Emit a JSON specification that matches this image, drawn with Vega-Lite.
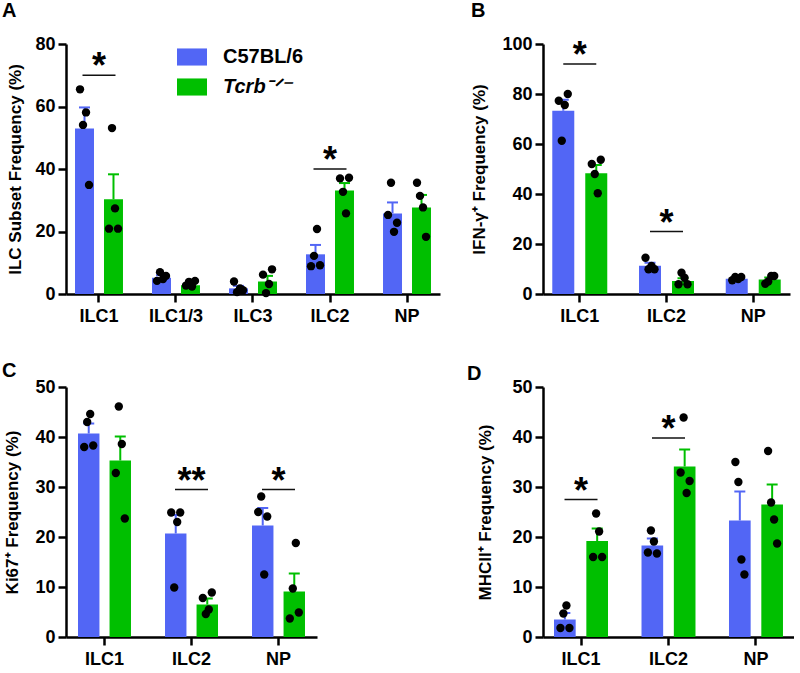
{
  "$schema": "https://vega.github.io/schema/vega-lite/v6.json",
  "padding": {"left": 2, "top": 1, "right": 0, "bottom": 0},
  "background": "white",
  "datasets": {
    "bars": [
      {"panel": "A", "cell": "ILC1", "genotype": "C57BL/6", "mean": 53.0, "upper": 59.7},
      {"panel": "A", "cell": "ILC1", "genotype": "Tcrb-/-", "mean": 30.3, "upper": 38.3},
      {"panel": "A", "cell": "ILC1/3", "genotype": "C57BL/6", "mean": 5.2, "upper": 6.0},
      {"panel": "A", "cell": "ILC1/3", "genotype": "Tcrb-/-", "mean": 2.8, "upper": 3.3},
      {"panel": "A", "cell": "ILC3", "genotype": "C57BL/6", "mean": 1.8, "upper": 2.6},
      {"panel": "A", "cell": "ILC3", "genotype": "Tcrb-/-", "mean": 4.0, "upper": 5.8},
      {"panel": "A", "cell": "ILC2", "genotype": "C57BL/6", "mean": 12.7, "upper": 15.7},
      {"panel": "A", "cell": "ILC2", "genotype": "Tcrb-/-", "mean": 33.1, "upper": 35.5},
      {"panel": "A", "cell": "NP", "genotype": "C57BL/6", "mean": 25.8, "upper": 29.3},
      {"panel": "A", "cell": "NP", "genotype": "Tcrb-/-", "mean": 27.7, "upper": 31.7},
      {"panel": "B", "cell": "ILC1", "genotype": "C57BL/6", "mean": 73.3, "upper": 77.7},
      {"panel": "B", "cell": "ILC1", "genotype": "Tcrb-/-", "mean": 48.3, "upper": 51.6},
      {"panel": "B", "cell": "ILC2", "genotype": "C57BL/6", "mean": 11.3, "upper": 12.5},
      {"panel": "B", "cell": "ILC2", "genotype": "Tcrb-/-", "mean": 5.2, "upper": 6.3},
      {"panel": "B", "cell": "NP", "genotype": "C57BL/6", "mean": 6.1, "upper": 6.6},
      {"panel": "B", "cell": "NP", "genotype": "Tcrb-/-", "mean": 5.8, "upper": 6.6},
      {"panel": "C", "cell": "ILC1", "genotype": "C57BL/6", "mean": 40.7, "upper": 42.7},
      {"panel": "C", "cell": "ILC1", "genotype": "Tcrb-/-", "mean": 35.3, "upper": 40.1},
      {"panel": "C", "cell": "ILC2", "genotype": "C57BL/6", "mean": 20.7, "upper": 24.4},
      {"panel": "C", "cell": "ILC2", "genotype": "Tcrb-/-", "mean": 6.5, "upper": 7.7},
      {"panel": "C", "cell": "NP", "genotype": "C57BL/6", "mean": 22.3, "upper": 25.8},
      {"panel": "C", "cell": "NP", "genotype": "Tcrb-/-", "mean": 9.1, "upper": 12.7},
      {"panel": "D", "cell": "ILC1", "genotype": "C57BL/6", "mean": 3.5, "upper": 4.8},
      {"panel": "D", "cell": "ILC1", "genotype": "Tcrb-/-", "mean": 19.2, "upper": 21.7},
      {"panel": "D", "cell": "ILC2", "genotype": "C57BL/6", "mean": 18.3, "upper": 19.7},
      {"panel": "D", "cell": "ILC2", "genotype": "Tcrb-/-", "mean": 34.1, "upper": 37.5},
      {"panel": "D", "cell": "NP", "genotype": "C57BL/6", "mean": 23.3, "upper": 29.1},
      {"panel": "D", "cell": "NP", "genotype": "Tcrb-/-", "mean": 26.5, "upper": 30.5}
    ],
    "points": [
      {"panel": "A", "cell": "ILC1", "genotype": "C57BL/6", "mouse": 1, "value": 65.5},
      {"panel": "A", "cell": "ILC1", "genotype": "C57BL/6", "mouse": 3, "value": 58.1},
      {"panel": "A", "cell": "ILC1", "genotype": "C57BL/6", "mouse": 2, "value": 54.1},
      {"panel": "A", "cell": "ILC1", "genotype": "C57BL/6", "mouse": 4, "value": 34.9},
      {"panel": "A", "cell": "ILC1", "genotype": "Tcrb-/-", "mouse": 2, "value": 53.1},
      {"panel": "A", "cell": "ILC1", "genotype": "Tcrb-/-", "mouse": 3, "value": 27.4},
      {"panel": "A", "cell": "ILC1", "genotype": "Tcrb-/-", "mouse": 1, "value": 20.9},
      {"panel": "A", "cell": "ILC1", "genotype": "Tcrb-/-", "mouse": 4, "value": 20.9},
      {"panel": "A", "cell": "ILC1/3", "genotype": "C57BL/6", "mouse": 2, "value": 7.0},
      {"panel": "A", "cell": "ILC1/3", "genotype": "C57BL/6", "mouse": 4, "value": 5.8},
      {"panel": "A", "cell": "ILC1/3", "genotype": "C57BL/6", "mouse": 1, "value": 4.2},
      {"panel": "A", "cell": "ILC1/3", "genotype": "C57BL/6", "mouse": 3, "value": 4.8},
      {"panel": "A", "cell": "ILC1/3", "genotype": "Tcrb-/-", "mouse": 2, "value": 3.9},
      {"panel": "A", "cell": "ILC1/3", "genotype": "Tcrb-/-", "mouse": 4, "value": 4.2},
      {"panel": "A", "cell": "ILC1/3", "genotype": "Tcrb-/-", "mouse": 1, "value": 2.7},
      {"panel": "A", "cell": "ILC1/3", "genotype": "Tcrb-/-", "mouse": 3, "value": 2.4},
      {"panel": "A", "cell": "ILC3", "genotype": "C57BL/6", "mouse": 1, "value": 4.0},
      {"panel": "A", "cell": "ILC3", "genotype": "C57BL/6", "mouse": 3, "value": 1.8},
      {"panel": "A", "cell": "ILC3", "genotype": "C57BL/6", "mouse": 4, "value": 1.2},
      {"panel": "A", "cell": "ILC3", "genotype": "C57BL/6", "mouse": 2, "value": 0.6},
      {"panel": "A", "cell": "ILC3", "genotype": "Tcrb-/-", "mouse": 4, "value": 7.9},
      {"panel": "A", "cell": "ILC3", "genotype": "Tcrb-/-", "mouse": 1, "value": 6.2},
      {"panel": "A", "cell": "ILC3", "genotype": "Tcrb-/-", "mouse": 3, "value": 3.2},
      {"panel": "A", "cell": "ILC3", "genotype": "Tcrb-/-", "mouse": 2, "value": 0.3},
      {"panel": "A", "cell": "ILC2", "genotype": "C57BL/6", "mouse": 3, "value": 20.8},
      {"panel": "A", "cell": "ILC2", "genotype": "C57BL/6", "mouse": 2, "value": 12.2},
      {"panel": "A", "cell": "ILC2", "genotype": "C57BL/6", "mouse": 1, "value": 8.9},
      {"panel": "A", "cell": "ILC2", "genotype": "C57BL/6", "mouse": 4, "value": 9.2},
      {"panel": "A", "cell": "ILC2", "genotype": "Tcrb-/-", "mouse": 1, "value": 37.0},
      {"panel": "A", "cell": "ILC2", "genotype": "Tcrb-/-", "mouse": 4, "value": 37.2},
      {"panel": "A", "cell": "ILC2", "genotype": "Tcrb-/-", "mouse": 2, "value": 32.7},
      {"panel": "A", "cell": "ILC2", "genotype": "Tcrb-/-", "mouse": 3, "value": 25.8},
      {"panel": "A", "cell": "NP", "genotype": "C57BL/6", "mouse": 2, "value": 35.6},
      {"panel": "A", "cell": "NP", "genotype": "C57BL/6", "mouse": 1, "value": 25.3},
      {"panel": "A", "cell": "NP", "genotype": "C57BL/6", "mouse": 4, "value": 22.8},
      {"panel": "A", "cell": "NP", "genotype": "C57BL/6", "mouse": 3, "value": 19.9},
      {"panel": "A", "cell": "NP", "genotype": "Tcrb-/-", "mouse": 1, "value": 35.6},
      {"panel": "A", "cell": "NP", "genotype": "Tcrb-/-", "mouse": 2, "value": 31.4},
      {"panel": "A", "cell": "NP", "genotype": "Tcrb-/-", "mouse": 3, "value": 27.7},
      {"panel": "A", "cell": "NP", "genotype": "Tcrb-/-", "mouse": 4, "value": 18.3},
      {"panel": "B", "cell": "ILC1", "genotype": "C57BL/6", "mouse": 1, "value": 77.3},
      {"panel": "B", "cell": "ILC1", "genotype": "C57BL/6", "mouse": 4, "value": 80.0},
      {"panel": "B", "cell": "ILC1", "genotype": "C57BL/6", "mouse": 3, "value": 75.6},
      {"panel": "B", "cell": "ILC1", "genotype": "C57BL/6", "mouse": 2, "value": 61.3},
      {"panel": "B", "cell": "ILC1", "genotype": "Tcrb-/-", "mouse": 1, "value": 52.0},
      {"panel": "B", "cell": "ILC1", "genotype": "Tcrb-/-", "mouse": 4, "value": 53.7},
      {"panel": "B", "cell": "ILC1", "genotype": "Tcrb-/-", "mouse": 2, "value": 48.0},
      {"panel": "B", "cell": "ILC1", "genotype": "Tcrb-/-", "mouse": 3, "value": 40.3},
      {"panel": "B", "cell": "ILC2", "genotype": "C57BL/6", "mouse": 1, "value": 14.5},
      {"panel": "B", "cell": "ILC2", "genotype": "C57BL/6", "mouse": 3, "value": 11.2},
      {"panel": "B", "cell": "ILC2", "genotype": "C57BL/6", "mouse": 2, "value": 9.9},
      {"panel": "B", "cell": "ILC2", "genotype": "C57BL/6", "mouse": 4, "value": 9.9},
      {"panel": "B", "cell": "ILC2", "genotype": "Tcrb-/-", "mouse": 2, "value": 8.5},
      {"panel": "B", "cell": "ILC2", "genotype": "Tcrb-/-", "mouse": 3, "value": 6.5},
      {"panel": "B", "cell": "ILC2", "genotype": "Tcrb-/-", "mouse": 1, "value": 3.9},
      {"panel": "B", "cell": "ILC2", "genotype": "Tcrb-/-", "mouse": 4, "value": 3.9},
      {"panel": "B", "cell": "NP", "genotype": "C57BL/6", "mouse": 2, "value": 6.8},
      {"panel": "B", "cell": "NP", "genotype": "C57BL/6", "mouse": 4, "value": 6.8},
      {"panel": "B", "cell": "NP", "genotype": "C57BL/6", "mouse": 1, "value": 5.5},
      {"panel": "B", "cell": "NP", "genotype": "C57BL/6", "mouse": 3, "value": 6.0},
      {"panel": "B", "cell": "NP", "genotype": "Tcrb-/-", "mouse": 3, "value": 7.2},
      {"panel": "B", "cell": "NP", "genotype": "Tcrb-/-", "mouse": 4, "value": 7.2},
      {"panel": "B", "cell": "NP", "genotype": "Tcrb-/-", "mouse": 1, "value": 4.1},
      {"panel": "B", "cell": "NP", "genotype": "Tcrb-/-", "mouse": 2, "value": 5.0},
      {"panel": "C", "cell": "ILC1", "genotype": "C57BL/6", "mouse": 2, "value": 43.0},
      {"panel": "C", "cell": "ILC1", "genotype": "C57BL/6", "mouse": 3, "value": 44.6},
      {"panel": "C", "cell": "ILC1", "genotype": "C57BL/6", "mouse": 1, "value": 38.0},
      {"panel": "C", "cell": "ILC1", "genotype": "C57BL/6", "mouse": 4, "value": 38.3},
      {"panel": "C", "cell": "ILC1", "genotype": "Tcrb-/-", "mouse": 2, "value": 46.1},
      {"panel": "C", "cell": "ILC1", "genotype": "Tcrb-/-", "mouse": 3, "value": 38.6},
      {"panel": "C", "cell": "ILC1", "genotype": "Tcrb-/-", "mouse": 1, "value": 32.8},
      {"panel": "C", "cell": "ILC1", "genotype": "Tcrb-/-", "mouse": 4, "value": 23.7},
      {"panel": "C", "cell": "ILC2", "genotype": "C57BL/6", "mouse": 1, "value": 24.9},
      {"panel": "C", "cell": "ILC2", "genotype": "C57BL/6", "mouse": 4, "value": 24.9},
      {"panel": "C", "cell": "ILC2", "genotype": "C57BL/6", "mouse": 3, "value": 23.0},
      {"panel": "C", "cell": "ILC2", "genotype": "C57BL/6", "mouse": 2, "value": 9.9},
      {"panel": "C", "cell": "ILC2", "genotype": "Tcrb-/-", "mouse": 1, "value": 7.8},
      {"panel": "C", "cell": "ILC2", "genotype": "Tcrb-/-", "mouse": 4, "value": 8.9},
      {"panel": "C", "cell": "ILC2", "genotype": "Tcrb-/-", "mouse": 2, "value": 4.6},
      {"panel": "C", "cell": "ILC2", "genotype": "Tcrb-/-", "mouse": 3, "value": 5.5},
      {"panel": "C", "cell": "NP", "genotype": "C57BL/6", "mouse": 2, "value": 28.1},
      {"panel": "C", "cell": "NP", "genotype": "C57BL/6", "mouse": 1, "value": 25.0},
      {"panel": "C", "cell": "NP", "genotype": "C57BL/6", "mouse": 4, "value": 24.1},
      {"panel": "C", "cell": "NP", "genotype": "C57BL/6", "mouse": 3, "value": 12.5},
      {"panel": "C", "cell": "NP", "genotype": "Tcrb-/-", "mouse": 3, "value": 18.8},
      {"panel": "C", "cell": "NP", "genotype": "Tcrb-/-", "mouse": 2, "value": 9.7},
      {"panel": "C", "cell": "NP", "genotype": "Tcrb-/-", "mouse": 1, "value": 3.7},
      {"panel": "C", "cell": "NP", "genotype": "Tcrb-/-", "mouse": 4, "value": 4.9},
      {"panel": "D", "cell": "ILC1", "genotype": "C57BL/6", "mouse": 2, "value": 4.7},
      {"panel": "D", "cell": "ILC1", "genotype": "C57BL/6", "mouse": 3, "value": 6.3},
      {"panel": "D", "cell": "ILC1", "genotype": "C57BL/6", "mouse": 1, "value": 1.8},
      {"panel": "D", "cell": "ILC1", "genotype": "C57BL/6", "mouse": 4, "value": 1.8},
      {"panel": "D", "cell": "ILC1", "genotype": "Tcrb-/-", "mouse": 2, "value": 24.7},
      {"panel": "D", "cell": "ILC1", "genotype": "Tcrb-/-", "mouse": 3, "value": 21.1},
      {"panel": "D", "cell": "ILC1", "genotype": "Tcrb-/-", "mouse": 1, "value": 16.0},
      {"panel": "D", "cell": "ILC1", "genotype": "Tcrb-/-", "mouse": 4, "value": 16.0},
      {"panel": "D", "cell": "ILC2", "genotype": "C57BL/6", "mouse": 2, "value": 21.3},
      {"panel": "D", "cell": "ILC2", "genotype": "C57BL/6", "mouse": 3, "value": 19.1},
      {"panel": "D", "cell": "ILC2", "genotype": "C57BL/6", "mouse": 1, "value": 16.9},
      {"panel": "D", "cell": "ILC2", "genotype": "C57BL/6", "mouse": 4, "value": 16.7},
      {"panel": "D", "cell": "ILC2", "genotype": "Tcrb-/-", "mouse": 2, "value": 43.9},
      {"panel": "D", "cell": "ILC2", "genotype": "Tcrb-/-", "mouse": 1, "value": 32.9},
      {"panel": "D", "cell": "ILC2", "genotype": "Tcrb-/-", "mouse": 4, "value": 31.2},
      {"panel": "D", "cell": "ILC2", "genotype": "Tcrb-/-", "mouse": 3, "value": 28.8},
      {"panel": "D", "cell": "NP", "genotype": "C57BL/6", "mouse": 1, "value": 35.0},
      {"panel": "D", "cell": "NP", "genotype": "C57BL/6", "mouse": 2, "value": 31.0},
      {"panel": "D", "cell": "NP", "genotype": "C57BL/6", "mouse": 3, "value": 15.5},
      {"panel": "D", "cell": "NP", "genotype": "C57BL/6", "mouse": 4, "value": 12.5},
      {"panel": "D", "cell": "NP", "genotype": "Tcrb-/-", "mouse": 1, "value": 37.2},
      {"panel": "D", "cell": "NP", "genotype": "Tcrb-/-", "mouse": 2, "value": 26.9},
      {"panel": "D", "cell": "NP", "genotype": "Tcrb-/-", "mouse": 3, "value": 23.5},
      {"panel": "D", "cell": "NP", "genotype": "Tcrb-/-", "mouse": 4, "value": 18.7}
    ],
    "sig": [
      {"panel": "A", "cell": "ILC1", "line": 70, "label": "*"},
      {"panel": "A", "cell": "ILC2", "line": 40, "label": "*"},
      {"panel": "B", "cell": "ILC1", "line": 92, "label": "*"},
      {"panel": "B", "cell": "ILC2", "line": 25, "label": "*"},
      {"panel": "C", "cell": "ILC2", "line": 29.5, "label": "**"},
      {"panel": "C", "cell": "NP", "line": 29.5, "label": "*"},
      {"panel": "D", "cell": "ILC1", "line": 27.5, "label": "*"},
      {"panel": "D", "cell": "ILC2", "line": 39.8, "label": "*"}
    ]
  },
  "bounds": "flush",
  "columns": 2,
  "spacing": {"row": 93, "column": 103},
  "resolve": {"scale": {"color": "independent", "xOffset": "independent"}},
  "concat": [
    {
      "width": 374,
      "height": 250,
      "title": {"text": "A", "anchor": "start", "frame": "group", "dx": -64, "offset": -2, "baseline": "alphabetic", "fontSize": 20, "fontWeight": "bold", "color": "black"},
      "encoding": {"x": {"field": "cell", "type": "nominal", "scale": {"domain": ["ILC1", "ILC1/3", "ILC3", "ILC2", "NP"], "paddingInner": 0.377, "paddingOuter": 0.117}, "axis": {"title": null}}},
      "resolve": {"scale": {"xOffset": "independent"}},
      "layer": [
        {
          "data": {"name": "bars"},
          "transform": [{"filter": "datum.panel == 'A'"}],
          "mark": {"type": "bar"},
          "encoding": {
            "xOffset": {"field": "genotype", "type": "nominal", "scale": {"domain": ["C57BL/6", "Tcrb-/-"], "paddingInner": 0.345, "paddingOuter": 0}},
            "y": {"field": "mean", "type": "quantitative", "scale": {"domain": [0, 80], "nice": false}, "axis": {"values": [0, 20, 40, 60, 80], "titlePadding": 10}, "title": "ILC Subset Frequency (%)"},
            "color": {"field": "genotype", "type": "nominal", "scale": {"domain": ["C57BL/6", "Tcrb-/-"], "range": ["#5266F5", "#00BF00"]},
              "legend": {"orient": "none", "legendX": 111, "legendY": -2, "title": null, "padding": 0, "symbolType": "M-1,-0.57L1,-0.57L1,0.57L-1,0.57Z", "symbolSize": 900, "symbolStrokeWidth": 0, "symbolOpacity": 1, "labelFontSize": 20, "labelFontWeight": "bold", "labelColor": "black", "labelOffset": 16, "rowPadding": 5, "labelExpr": "datum.label == 'Tcrb-/-' ? 'Tcrb⁻ᐟ⁻' : datum.label", "labelFontStyle": {"expr": "datum.value == 'Tcrb-/-' ? 'italic' : 'normal'"}}}
          }
        },
        {
          "data": {"name": "bars"},
          "transform": [{"filter": "datum.panel == 'A'"}],
          "mark": {"type": "rule", "strokeWidth": 2},
          "encoding": {
            "xOffset": {"field": "genotype", "type": "nominal", "scale": {"domain": ["C57BL/6", "Tcrb-/-"], "paddingInner": 0.345, "paddingOuter": 0}},
            "y": {"field": "mean", "type": "quantitative", "scale": {"domain": [0, 80], "nice": false}, "axis": {"values": [0, 20, 40, 60, 80], "titlePadding": 10}, "title": "ILC Subset Frequency (%)"},
            "y2": {"field": "upper"},
            "color": {"field": "genotype", "type": "nominal"}
          }
        },
        {
          "data": {"name": "bars"},
          "transform": [{"filter": "datum.panel == 'A'"}],
          "mark": {"type": "tick", "size": 11, "thickness": 2, "opacity": 1},
          "encoding": {
            "xOffset": {"field": "genotype", "type": "nominal", "scale": {"domain": ["C57BL/6", "Tcrb-/-"], "paddingInner": 0.345, "paddingOuter": 0}},
            "y": {"field": "upper", "type": "quantitative", "scale": {"domain": [0, 80], "nice": false}, "axis": {"values": [0, 20, 40, 60, 80], "titlePadding": 10}, "title": "ILC Subset Frequency (%)"},
            "color": {"field": "genotype", "type": "nominal"}
          }
        },
        {
          "data": {"name": "points"},
          "transform": [{"filter": "datum.panel == 'A' && datum.genotype == 'C57BL/6'"}],
          "mark": {"type": "circle", "size": 70, "color": "black", "opacity": 1},
          "encoding": {
            "xOffset": {"field": "mouse", "type": "ordinal", "scale": {"type": "point", "domain": [1, 2, 3, 4], "range": [5, 14], "padding": 0}},
            "y": {"field": "value", "type": "quantitative", "scale": {"domain": [0, 80], "nice": false}, "axis": {"values": [0, 20, 40, 60, 80], "titlePadding": 10}, "title": "ILC Subset Frequency (%)"}
          }
        },
        {
          "data": {"name": "points"},
          "transform": [{"filter": "datum.panel == 'A' && datum.genotype == 'Tcrb-/-'"}],
          "mark": {"type": "circle", "size": 70, "color": "black", "opacity": 1},
          "encoding": {
            "xOffset": {"field": "mouse", "type": "ordinal", "scale": {"type": "point", "domain": [1, 2, 3, 4], "range": [34, 43], "padding": 0}},
            "y": {"field": "value", "type": "quantitative", "scale": {"domain": [0, 80], "nice": false}, "axis": {"values": [0, 20, 40, 60, 80], "titlePadding": 10}, "title": "ILC Subset Frequency (%)"}
          }
        },
        {
          "data": {"name": "sig"},
          "transform": [{"filter": "datum.panel == 'A'"}],
          "mark": {"type": "tick", "size": 33, "thickness": 1.5, "color": "#111111", "opacity": 1},
          "encoding": {
            "y": {"field": "line", "type": "quantitative", "scale": {"domain": [0, 80], "nice": false}, "axis": {"values": [0, 20, 40, 60, 80], "titlePadding": 10}, "title": "ILC Subset Frequency (%)"}
          }
        },
        {
          "data": {"name": "sig"},
          "transform": [{"filter": "datum.panel == 'A'"}],
          "mark": {"type": "text", "fontSize": 36, "fontWeight": "bold", "color": "black", "baseline": "alphabetic", "align": "center", "dy": 3},
          "encoding": {
            "y": {"field": "line", "type": "quantitative", "scale": {"domain": [0, 80], "nice": false}, "axis": {"values": [0, 20, 40, 60, 80], "titlePadding": 10}, "title": "ILC Subset Frequency (%)"},
            "text": {"field": "label"}
          }
        }
      ]
    },
    {
      "width": 247,
      "height": 250,
      "title": {"text": "B", "anchor": "start", "frame": "group", "dx": -72, "offset": -2, "baseline": "alphabetic", "fontSize": 20, "fontWeight": "bold", "color": "black"},
      "encoding": {"x": {"field": "cell", "type": "nominal", "scale": {"domain": ["ILC1", "ILC2", "NP"], "paddingInner": 0.366, "paddingOuter": 0.107}, "axis": {"title": null}}},
      "resolve": {"scale": {"xOffset": "independent"}},
      "layer": [
        {
          "data": {"name": "bars"},
          "transform": [{"filter": "datum.panel == 'B'"}],
          "mark": {"type": "bar"},
          "encoding": {
            "xOffset": {"field": "genotype", "type": "nominal", "scale": {"domain": ["C57BL/6", "Tcrb-/-"], "paddingInner": 0.333, "paddingOuter": 0}},
            "y": {"field": "mean", "type": "quantitative", "scale": {"domain": [0, 100], "nice": false}, "axis": {"values": [0, 20, 40, 60, 80, 100], "titlePadding": 13}, "title": "IFN-γ⁺ Frequency (%)"},
            "color": {"field": "genotype", "type": "nominal", "scale": {"domain": ["C57BL/6", "Tcrb-/-"], "range": ["#5266F5", "#00BF00"]}, "legend": null}
          }
        },
        {
          "data": {"name": "bars"},
          "transform": [{"filter": "datum.panel == 'B'"}],
          "mark": {"type": "rule", "strokeWidth": 2},
          "encoding": {
            "xOffset": {"field": "genotype", "type": "nominal", "scale": {"domain": ["C57BL/6", "Tcrb-/-"], "paddingInner": 0.333, "paddingOuter": 0}},
            "y": {"field": "mean", "type": "quantitative", "scale": {"domain": [0, 100], "nice": false}, "axis": {"values": [0, 20, 40, 60, 80, 100], "titlePadding": 13}, "title": "IFN-γ⁺ Frequency (%)"},
            "y2": {"field": "upper"},
            "color": {"field": "genotype", "type": "nominal", "legend": null}
          }
        },
        {
          "data": {"name": "bars"},
          "transform": [{"filter": "datum.panel == 'B'"}],
          "mark": {"type": "tick", "size": 11, "thickness": 2, "opacity": 1},
          "encoding": {
            "xOffset": {"field": "genotype", "type": "nominal", "scale": {"domain": ["C57BL/6", "Tcrb-/-"], "paddingInner": 0.333, "paddingOuter": 0}},
            "y": {"field": "upper", "type": "quantitative", "scale": {"domain": [0, 100], "nice": false}, "axis": {"values": [0, 20, 40, 60, 80, 100], "titlePadding": 13}, "title": "IFN-γ⁺ Frequency (%)"},
            "color": {"field": "genotype", "type": "nominal", "legend": null}
          }
        },
        {
          "data": {"name": "points"},
          "transform": [{"filter": "datum.panel == 'B' && datum.genotype == 'C57BL/6'"}],
          "mark": {"type": "circle", "size": 70, "color": "black", "opacity": 1},
          "encoding": {
            "xOffset": {"field": "mouse", "type": "ordinal", "scale": {"type": "point", "domain": [1, 2, 3, 4], "range": [6.5, 15.5], "padding": 0}},
            "y": {"field": "value", "type": "quantitative", "scale": {"domain": [0, 100], "nice": false}, "axis": {"values": [0, 20, 40, 60, 80, 100], "titlePadding": 13}, "title": "IFN-γ⁺ Frequency (%)"}
          }
        },
        {
          "data": {"name": "points"},
          "transform": [{"filter": "datum.panel == 'B' && datum.genotype == 'Tcrb-/-'"}],
          "mark": {"type": "circle", "size": 70, "color": "black", "opacity": 1},
          "encoding": {
            "xOffset": {"field": "mouse", "type": "ordinal", "scale": {"type": "point", "domain": [1, 2, 3, 4], "range": [39.5, 48.5], "padding": 0}},
            "y": {"field": "value", "type": "quantitative", "scale": {"domain": [0, 100], "nice": false}, "axis": {"values": [0, 20, 40, 60, 80, 100], "titlePadding": 13}, "title": "IFN-γ⁺ Frequency (%)"}
          }
        },
        {
          "data": {"name": "sig"},
          "transform": [{"filter": "datum.panel == 'B'"}],
          "mark": {"type": "tick", "size": 33, "thickness": 1.5, "color": "#111111", "opacity": 1},
          "encoding": {
            "y": {"field": "line", "type": "quantitative", "scale": {"domain": [0, 100], "nice": false}, "axis": {"values": [0, 20, 40, 60, 80, 100], "titlePadding": 13}, "title": "IFN-γ⁺ Frequency (%)"}
          }
        },
        {
          "data": {"name": "sig"},
          "transform": [{"filter": "datum.panel == 'B'"}],
          "mark": {"type": "text", "fontSize": 36, "fontWeight": "bold", "color": "black", "baseline": "alphabetic", "align": "center", "dy": 3},
          "encoding": {
            "y": {"field": "line", "type": "quantitative", "scale": {"domain": [0, 100], "nice": false}, "axis": {"values": [0, 20, 40, 60, 80, 100], "titlePadding": 13}, "title": "IFN-γ⁺ Frequency (%)"},
            "text": {"field": "label"}
          }
        }
      ]
    },
    {
      "width": 251,
      "height": 250,
      "title": {"text": "C", "anchor": "start", "frame": "group", "dx": -64, "offset": -19, "baseline": "alphabetic", "fontSize": 20, "fontWeight": "bold", "color": "black"},
      "encoding": {"x": {"field": "cell", "type": "nominal", "scale": {"domain": ["ILC1", "ILC2", "NP"], "paddingInner": 0.391, "paddingOuter": 0.138}, "axis": {"title": null}}},
      "resolve": {"scale": {"xOffset": "independent"}},
      "layer": [
        {
          "data": {"name": "bars"},
          "transform": [{"filter": "datum.panel == 'C'"}],
          "mark": {"type": "bar"},
          "encoding": {
            "xOffset": {"field": "genotype", "type": "nominal", "scale": {"domain": ["C57BL/6", "Tcrb-/-"], "paddingInner": 0.32, "paddingOuter": 0}},
            "y": {"field": "mean", "type": "quantitative", "scale": {"domain": [0, 50], "nice": false}, "axis": {"values": [0, 10, 20, 30, 40, 50], "titlePadding": 13}, "title": "Ki67⁺ Frequency (%)"},
            "color": {"field": "genotype", "type": "nominal", "scale": {"domain": ["C57BL/6", "Tcrb-/-"], "range": ["#5266F5", "#00BF00"]}, "legend": null}
          }
        },
        {
          "data": {"name": "bars"},
          "transform": [{"filter": "datum.panel == 'C'"}],
          "mark": {"type": "rule", "strokeWidth": 2},
          "encoding": {
            "xOffset": {"field": "genotype", "type": "nominal", "scale": {"domain": ["C57BL/6", "Tcrb-/-"], "paddingInner": 0.32, "paddingOuter": 0}},
            "y": {"field": "mean", "type": "quantitative", "scale": {"domain": [0, 50], "nice": false}, "axis": {"values": [0, 10, 20, 30, 40, 50], "titlePadding": 13}, "title": "Ki67⁺ Frequency (%)"},
            "y2": {"field": "upper"},
            "color": {"field": "genotype", "type": "nominal", "legend": null}
          }
        },
        {
          "data": {"name": "bars"},
          "transform": [{"filter": "datum.panel == 'C'"}],
          "mark": {"type": "tick", "size": 11, "thickness": 2, "opacity": 1},
          "encoding": {
            "xOffset": {"field": "genotype", "type": "nominal", "scale": {"domain": ["C57BL/6", "Tcrb-/-"], "paddingInner": 0.32, "paddingOuter": 0}},
            "y": {"field": "upper", "type": "quantitative", "scale": {"domain": [0, 50], "nice": false}, "axis": {"values": [0, 10, 20, 30, 40, 50], "titlePadding": 13}, "title": "Ki67⁺ Frequency (%)"},
            "color": {"field": "genotype", "type": "nominal", "legend": null}
          }
        },
        {
          "data": {"name": "points"},
          "transform": [{"filter": "datum.panel == 'C' && datum.genotype == 'C57BL/6'"}],
          "mark": {"type": "circle", "size": 70, "color": "black", "opacity": 1},
          "encoding": {
            "xOffset": {"field": "mouse", "type": "ordinal", "scale": {"type": "point", "domain": [1, 2, 3, 4], "range": [6.2, 15.2], "padding": 0}},
            "y": {"field": "value", "type": "quantitative", "scale": {"domain": [0, 50], "nice": false}, "axis": {"values": [0, 10, 20, 30, 40, 50], "titlePadding": 13}, "title": "Ki67⁺ Frequency (%)"}
          }
        },
        {
          "data": {"name": "points"},
          "transform": [{"filter": "datum.panel == 'C' && datum.genotype == 'Tcrb-/-'"}],
          "mark": {"type": "circle", "size": 70, "color": "black", "opacity": 1},
          "encoding": {
            "xOffset": {"field": "mouse", "type": "ordinal", "scale": {"type": "point", "domain": [1, 2, 3, 4], "range": [37.8, 46.8], "padding": 0}},
            "y": {"field": "value", "type": "quantitative", "scale": {"domain": [0, 50], "nice": false}, "axis": {"values": [0, 10, 20, 30, 40, 50], "titlePadding": 13}, "title": "Ki67⁺ Frequency (%)"}
          }
        },
        {
          "data": {"name": "sig"},
          "transform": [{"filter": "datum.panel == 'C'"}],
          "mark": {"type": "tick", "size": 33, "thickness": 1.5, "color": "#111111", "opacity": 1},
          "encoding": {
            "y": {"field": "line", "type": "quantitative", "scale": {"domain": [0, 50], "nice": false}, "axis": {"values": [0, 10, 20, 30, 40, 50], "titlePadding": 13}, "title": "Ki67⁺ Frequency (%)"}
          }
        },
        {
          "data": {"name": "sig"},
          "transform": [{"filter": "datum.panel == 'C'"}],
          "mark": {"type": "text", "fontSize": 36, "fontWeight": "bold", "color": "black", "baseline": "alphabetic", "align": "center", "dy": 3},
          "encoding": {
            "y": {"field": "line", "type": "quantitative", "scale": {"domain": [0, 50], "nice": false}, "axis": {"values": [0, 10, 20, 30, 40, 50], "titlePadding": 13}, "title": "Ki67⁺ Frequency (%)"},
            "text": {"field": "label"}
          }
        }
      ]
    },
    {
      "width": 251,
      "height": 250,
      "title": {"text": "D", "anchor": "start", "frame": "group", "dx": -76, "offset": -22, "baseline": "alphabetic", "fontSize": 20, "fontWeight": "bold", "color": "black"},
      "encoding": {"x": {"field": "cell", "type": "nominal", "scale": {"domain": ["ILC1", "ILC2", "NP"], "paddingInner": 0.383, "paddingOuter": 0.126}, "axis": {"title": null}}},
      "resolve": {"scale": {"xOffset": "independent"}},
      "layer": [
        {
          "data": {"name": "bars"},
          "transform": [{"filter": "datum.panel == 'D'"}],
          "mark": {"type": "bar"},
          "encoding": {
            "xOffset": {"field": "genotype", "type": "nominal", "scale": {"domain": ["C57BL/6", "Tcrb-/-"], "paddingInner": 0.33, "paddingOuter": 0}},
            "y": {"field": "mean", "type": "quantitative", "scale": {"domain": [0, 50], "nice": false}, "axis": {"values": [0, 10, 20, 30, 40, 50], "titlePadding": 17}, "title": "MHCII⁺ Frequency (%)"},
            "color": {"field": "genotype", "type": "nominal", "scale": {"domain": ["C57BL/6", "Tcrb-/-"], "range": ["#5266F5", "#00BF00"]}, "legend": null}
          }
        },
        {
          "data": {"name": "bars"},
          "transform": [{"filter": "datum.panel == 'D'"}],
          "mark": {"type": "rule", "strokeWidth": 2},
          "encoding": {
            "xOffset": {"field": "genotype", "type": "nominal", "scale": {"domain": ["C57BL/6", "Tcrb-/-"], "paddingInner": 0.33, "paddingOuter": 0}},
            "y": {"field": "mean", "type": "quantitative", "scale": {"domain": [0, 50], "nice": false}, "axis": {"values": [0, 10, 20, 30, 40, 50], "titlePadding": 17}, "title": "MHCII⁺ Frequency (%)"},
            "y2": {"field": "upper"},
            "color": {"field": "genotype", "type": "nominal", "legend": null}
          }
        },
        {
          "data": {"name": "bars"},
          "transform": [{"filter": "datum.panel == 'D'"}],
          "mark": {"type": "tick", "size": 11, "thickness": 2, "opacity": 1},
          "encoding": {
            "xOffset": {"field": "genotype", "type": "nominal", "scale": {"domain": ["C57BL/6", "Tcrb-/-"], "paddingInner": 0.33, "paddingOuter": 0}},
            "y": {"field": "upper", "type": "quantitative", "scale": {"domain": [0, 50], "nice": false}, "axis": {"values": [0, 10, 20, 30, 40, 50], "titlePadding": 17}, "title": "MHCII⁺ Frequency (%)"},
            "color": {"field": "genotype", "type": "nominal", "legend": null}
          }
        },
        {
          "data": {"name": "points"},
          "transform": [{"filter": "datum.panel == 'D' && datum.genotype == 'C57BL/6'"}],
          "mark": {"type": "circle", "size": 70, "color": "black", "opacity": 1},
          "encoding": {
            "xOffset": {"field": "mouse", "type": "ordinal", "scale": {"type": "point", "domain": [1, 2, 3, 4], "range": [6.4, 15.4], "padding": 0}},
            "y": {"field": "value", "type": "quantitative", "scale": {"domain": [0, 50], "nice": false}, "axis": {"values": [0, 10, 20, 30, 40, 50], "titlePadding": 17}, "title": "MHCII⁺ Frequency (%)"}
          }
        },
        {
          "data": {"name": "points"},
          "transform": [{"filter": "datum.panel == 'D' && datum.genotype == 'Tcrb-/-'"}],
          "mark": {"type": "circle", "size": 70, "color": "black", "opacity": 1},
          "encoding": {
            "xOffset": {"field": "mouse", "type": "ordinal", "scale": {"type": "point", "domain": [1, 2, 3, 4], "range": [39.1, 48.1], "padding": 0}},
            "y": {"field": "value", "type": "quantitative", "scale": {"domain": [0, 50], "nice": false}, "axis": {"values": [0, 10, 20, 30, 40, 50], "titlePadding": 17}, "title": "MHCII⁺ Frequency (%)"}
          }
        },
        {
          "data": {"name": "sig"},
          "transform": [{"filter": "datum.panel == 'D'"}],
          "mark": {"type": "tick", "size": 33, "thickness": 1.5, "color": "#111111", "opacity": 1},
          "encoding": {
            "y": {"field": "line", "type": "quantitative", "scale": {"domain": [0, 50], "nice": false}, "axis": {"values": [0, 10, 20, 30, 40, 50], "titlePadding": 17}, "title": "MHCII⁺ Frequency (%)"}
          }
        },
        {
          "data": {"name": "sig"},
          "transform": [{"filter": "datum.panel == 'D'"}],
          "mark": {"type": "text", "fontSize": 36, "fontWeight": "bold", "color": "black", "baseline": "alphabetic", "align": "center", "dy": 3},
          "encoding": {
            "y": {"field": "line", "type": "quantitative", "scale": {"domain": [0, 50], "nice": false}, "axis": {"values": [0, 10, 20, 30, 40, 50], "titlePadding": 17}, "title": "MHCII⁺ Frequency (%)"},
            "text": {"field": "label"}
          }
        }
      ]
    }
  ],
  "config": {
    "font": "Liberation Sans",
    "view": {"stroke": null},
    "axis": {
      "grid": false,
      "domainColor": "black",
      "domainWidth": 2.5,
      "tickColor": "black",
      "tickWidth": 2.5,
      "tickSize": 8,
      "labelFont": "Liberation Sans",
      "labelFontWeight": "bold",
      "labelFontSize": 18,
      "labelColor": "black",
      "labelPadding": 3,
      "titleFont": "Liberation Sans",
      "titleFontWeight": "bold",
      "titleFontSize": 17,
      "titleColor": "black"
    },
    "axisX": {"labelAngle": 0, "labelPadding": 5},
    "title": {"font": "Liberation Sans"},
    "legend": {"labelFont": "Liberation Sans"}
  }
}
